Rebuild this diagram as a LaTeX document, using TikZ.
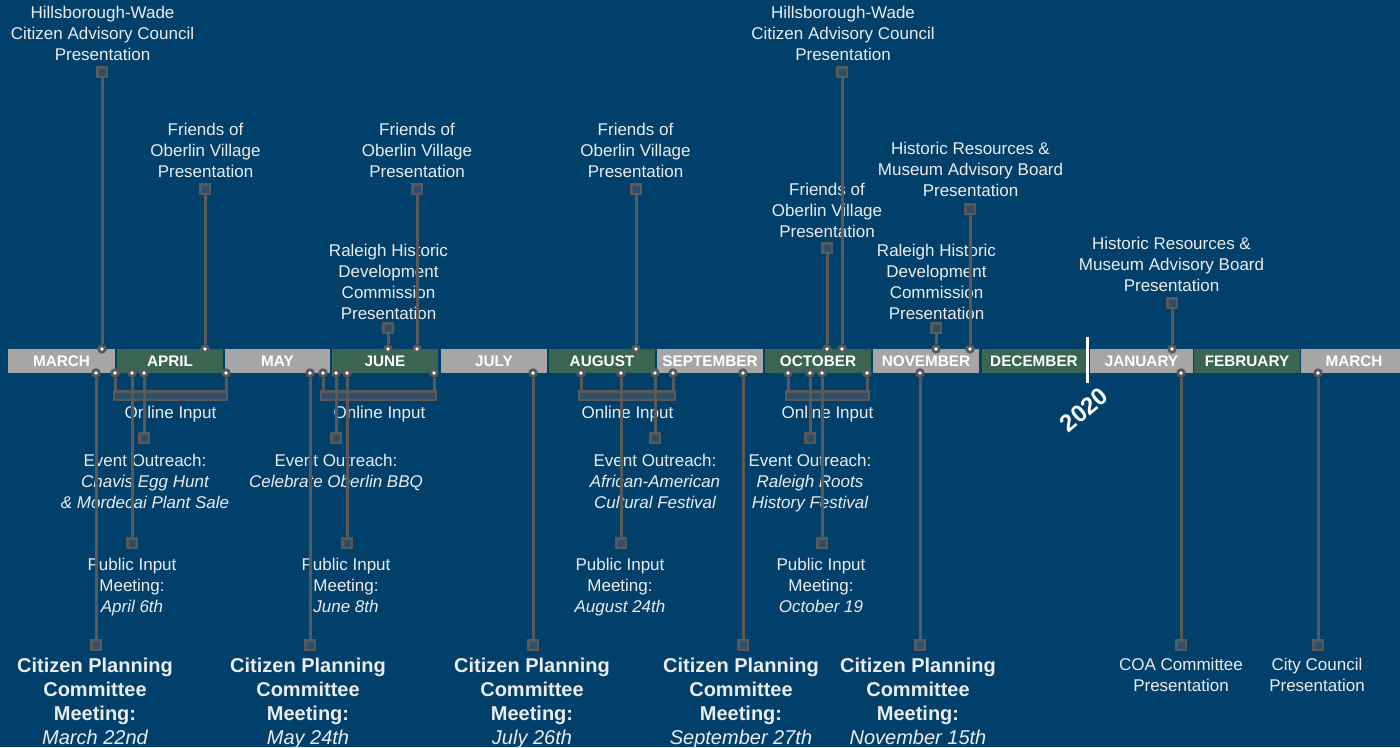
\documentclass[tikz,border=0pt]{standalone}
\usepackage{fontspec}
\setmainfont{Liberation Sans}
\definecolor{bg}{RGB}{0,64,107}
\definecolor{mgray}{RGB}{166,166,166}
\definecolor{mgreen}{RGB}{57,101,82}
\definecolor{lineg}{RGB}{89,89,89}
\definecolor{sqfill}{RGB}{48,78,104}
\definecolor{txt}{RGB}{236,236,236}
\newcommand\pin[4]{%
  \node[dotn] (d#1) at (#2,#3) {};
  \node[sqn] (s#1) at (#2,#4) {};
  \draw[conn] (d#1) -- (s#1);}
\newcommand\bside[3]{%
  \node[dotn] (d#1) at (#2,373) {};
  \draw[conn] (d#1) -- (d#1 |- #3.north);}
\begin{document}
\begin{tikzpicture}[x=1pt,y=-1pt,
  conn/.style={draw=lineg, line width=3pt},
  dotn/.style={circle, fill=lineg, inner sep=0pt, minimum size=9.5pt,
    path picture={\fill[white] (path picture bounding box.center) circle (1.8pt);}},
  sqn/.style={rectangle, draw=lineg, line width=2.5pt, fill=sqfill, minimum size=9.5pt, inner sep=0pt},
  brk/.style={rectangle, draw=lineg, line width=2.5pt, fill=sqfill, minimum height=8.5pt, inner sep=0pt},
  mbox/.style={rectangle, minimum height=24pt, inner sep=0pt, text=white, font=\fontsize{15.3}{18}\selectfont\bfseries},
  lbl/.style={anchor=north, text=txt, align=center, inner sep=0pt, font=\fontsize{17}{21}\selectfont},
  cpc/.style={anchor=north, text=txt, align=center, inner sep=0pt, font=\fontsize{20}{24}\selectfont\bfseries}]
\useasboundingbox (0,0) rectangle (1400,747);
\fill[bg] (0,0) rectangle (1400,747);
% month bar
\node[mbox, fill=mgray,  minimum width=107pt] (m1)  at (61.5,361) {MARCH};
\node[mbox, fill=mgreen, minimum width=106pt] (m2)  at (170,361) {APRIL};
\node[mbox, fill=mgray,  minimum width=105pt] (m3)  at (277.5,361) {MAY};
\node[mbox, fill=mgreen, minimum width=106pt] (m4)  at (385,361) {JUNE};
\node[mbox, fill=mgray,  minimum width=106pt] (m5)  at (494,361) {JULY};
\node[mbox, fill=mgreen, minimum width=106pt] (m6)  at (602,361) {AUGUST};
\node[mbox, fill=mgray,  minimum width=106pt] (m7)  at (710,361) {SEPTEMBER};
\node[mbox, fill=mgreen, minimum width=106pt] (m8)  at (818,361) {OCTOBER};
\node[mbox, fill=mgray,  minimum width=106pt] (m9)  at (926,361) {NOVEMBER};
\node[mbox, fill=mgreen, minimum width=104pt] (m10) at (1034,361) {DECEMBER};
\node[mbox, fill=mgray,  minimum width=103pt] (m11) at (1141.5,361) {JANUARY};
\node[mbox, fill=mgreen, minimum width=106pt] (m12) at (1247,361) {FEBRUARY};
\node[mbox, fill=mgray,  minimum width=106pt] (m13) at (1354,361) {MARCH};
\draw[white, line width=3pt] (1087.5,337) -- (1087.5,383);
\node[rotate=40, text=white, inner sep=0pt, font=\fontsize{24}{28}\selectfont\bfseries] (y2020) at (1084,410) {2020};
% top labels
\node[lbl] (tHA) at (102.5,5.7) {Hillsborough-Wade\\Citizen Advisory Council\\Presentation};
\node[lbl] (tFA) at (205.5,122.7) {Friends of\\Oberlin Village\\Presentation};
\node[lbl] (tRJ) at (388.5,243.7) {Raleigh Historic\\Development\\Commission\\Presentation};
\node[lbl] (tFJ) at (417,122.7) {Friends of\\Oberlin Village\\Presentation};
\node[lbl] (tFG) at (635.5,122.7) {Friends of\\Oberlin Village\\Presentation};
\node[lbl] (tFO) at (827,182.7) {Friends of\\Oberlin Village\\Presentation};
\node[lbl] (tHO) at (843,5.7) {Hillsborough-Wade\\Citizen Advisory Council\\Presentation};
\node[lbl] (tRN) at (936.5,243.7) {Raleigh Historic\\Development\\Commission\\Presentation};
\node[lbl] (tMN) at (970.5,141.7) {Historic Resources \&\\Museum Advisory Board\\Presentation};
\node[lbl] (tMJ) at (1171.5,236.7) {Historic Resources \&\\Museum Advisory Board\\Presentation};
% bottom labels
\node[lbl] (oA) at (170.5,405.7) {Online Input};
\node[lbl] (oJ) at (379.5,405.7) {Online Input};
\node[lbl] (oG) at (627.5,405.7) {Online Input};
\node[lbl] (oO) at (827.5,405.7) {Online Input};
\node[lbl] (tEA) at (145,453.7) {Event Outreach:\\{\itshape Chavis Egg Hunt}\\{\itshape\& Mordecai Plant Sale}};
\node[lbl] (tEJ) at (336,453.7) {Event Outreach:\\{\itshape Celebrate Oberlin BBQ}};
\node[lbl] (tEG) at (655,453.7) {Event Outreach:\\{\itshape African-American}\\{\itshape Cultural Festival}};
\node[lbl] (tEO) at (810,453.7) {Event Outreach:\\{\itshape Raleigh Roots}\\{\itshape History Festival}};
\node[lbl] (tPA) at (132,557.7) {Public Input\\Meeting:\\{\itshape April 6th}};
\node[lbl] (tPJ) at (346,557.7) {Public Input\\Meeting:\\{\itshape June 8th}};
\node[lbl] (tPG) at (620,557.7) {Public Input\\Meeting:\\{\itshape August 24th}};
\node[lbl] (tPO) at (821,557.7) {Public Input\\Meeting:\\{\itshape October 19}};
\node[cpc] (tC1) at (95,657.6) {Citizen Planning\\Committee\\Meeting:\\{\mdseries\itshape March 22nd}};
\node[cpc] (tC2) at (308,657.6) {Citizen Planning\\Committee\\Meeting:\\{\mdseries\itshape May 24th}};
\node[cpc] (tC3) at (532,657.6) {Citizen Planning\\Committee\\Meeting:\\{\mdseries\itshape July 26th}};
\node[cpc] (tC4) at (741,657.6) {Citizen Planning\\Committee\\Meeting:\\{\mdseries\itshape September 27th}};
\node[cpc] (tC5) at (918,657.6) {Citizen Planning\\Committee\\Meeting:\\{\mdseries\itshape November 15th}};
\node[lbl] (tCOA) at (1181,657.7) {COA Committee\\Presentation};
\node[lbl] (tCC) at (1317,657.7) {City Council\\Presentation};
% online input brackets
\node[brk, minimum width=113pt] (bA) at (170.5,395.5) {};
\node[brk, minimum width=115pt] (bJ) at (378.5,395.5) {};
\node[brk, minimum width=96pt]  (bG) at (627,395.5) {};
\node[brk, minimum width=83pt]  (bO) at (827.5,395.5) {};
\bside{Al}{115}{bA}\bside{Ar}{226}{bA}
\bside{Jl}{323}{bJ}\bside{Jr}{434}{bJ}
\bside{Gl}{581}{bG}\bside{Gr}{673}{bG}
\bside{Ol}{788}{bO}\bside{Or}{867}{bO}
% top pins
\pin{hA}{102}{349}{72}
\pin{fA}{205}{349}{189}
\pin{rJ}{388}{349}{328}
\pin{fJ}{417}{349}{189}
\pin{fG}{636}{349}{189}
\pin{fO}{827}{349}{248}
\pin{hO}{842}{349}{72}
\pin{rN}{936}{349}{328}
\pin{mN}{970}{349}{209}
\pin{mJ}{1172}{349}{303}
% bottom pins
\pin{c1}{96}{373}{645}
\pin{eA}{144}{373}{438}
\pin{pA}{132}{373}{543}
\pin{c2}{310}{373}{645}
\pin{eJ}{336}{373}{438}
\pin{pJ}{347}{373}{543}
\pin{c3}{533}{373}{645}
\pin{pG}{621}{373}{543}
\pin{eG}{655}{373}{438}
\pin{c4}{743}{373}{645}
\pin{eO}{810}{373}{438}
\pin{pO}{822}{373}{543}
\pin{c5}{920}{373}{645}
\pin{coa}{1181}{373}{645}
\pin{cc}{1318}{373}{645}
\end{tikzpicture}
\end{document}
